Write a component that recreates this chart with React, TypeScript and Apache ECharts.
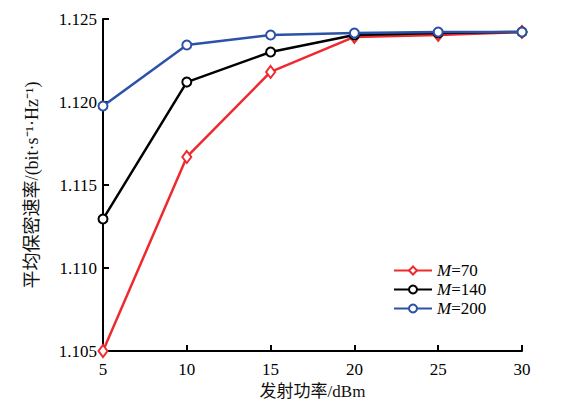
import React, { useEffect, useRef } from "react";
import * as echarts from "echarts";

const powers = ["5", "10", "15", "20", "25", "30"];
const xValues = [5, 10, 15, 20, 25, 30];
const m70 = [1.105, 1.11669, 1.12181, 1.12392, 1.12404, 1.12422];
const m140 = [1.11295, 1.1212, 1.12301, 1.12404, 1.12416, 1.12422];
const m200 = [1.11976, 1.12343, 1.12404, 1.12416, 1.12422, 1.12422];
const seriesNames = ["M=70", "M=140", "M=200"];

const serif = "Liberation Serif";
const cjk = "Liberation Serif, Noto Sans CJK SC";

export default function App() {
  const ref = useRef<HTMLDivElement>(null);
  useEffect(() => {
    if (!ref.current) return;
    const chart = echarts.init(ref.current, undefined, { renderer: "svg" });
    const mk = (vals: number[]) => xValues.map((x, i) => [x, vals[i]]);
    chart.setOption({
      animation: false,
      backgroundColor: "#fff",
      grid: { left: 103, right: 61, top: 19, bottom: 64 },
      legend: {
        orient: "vertical",
        left: 388,
        top: 257,
        itemWidth: 38,
        itemHeight: 10,
        itemGap: 2,
        data: seriesNames,
        formatter: (n: string) => "{i|M}=" + n.slice(2),
        textStyle: {
          fontFamily: serif,
          fontSize: 17,
          color: "#000",
          rich: { i: { fontStyle: "italic", fontFamily: serif, fontSize: 17, color: "#000" } },
        },
      },
      xAxis: {
        type: "value",
        min: 5,
        max: 30,
        interval: 5,
        name: "发射功率/dBm",
        nameLocation: "middle",
        nameGap: 29,
        nameTextStyle: { fontFamily: cjk, fontSize: 17, color: "#111" },
        axisLine: { lineStyle: { color: "#000", width: 2 } },
        axisTick: { inside: true, length: 6, lineStyle: { color: "#000", width: 2 } },
        axisLabel: {
          fontFamily: serif,
          fontSize: 17,
          color: "#000",
          margin: 10,
          formatter: (v: number) => powers[xValues.indexOf(v)] ?? String(v),
        },
        splitLine: { show: false },
      },
      yAxis: {
        type: "value",
        min: 1.105,
        max: 1.125,
        interval: 0.005,
        name: "平均保密速率/(bit·s⁻¹·Hz⁻¹)",
        nameLocation: "middle",
        nameGap: 62,
        nameRotate: 90,
        nameTextStyle: { fontFamily: cjk, fontSize: 18, color: "#111" },
        axisLine: { show: true, lineStyle: { color: "#000", width: 2 } },
        axisTick: { show: true, inside: true, length: 6, lineStyle: { color: "#000", width: 2 } },
        axisLabel: {
          fontFamily: serif,
          fontSize: 17,
          color: "#000",
          margin: 6,
          formatter: (v: number) => v.toFixed(3),
        },
        splitLine: { show: false },
      },
      series: [
        {
          name: seriesNames[0],
          type: "line",
          data: mk(m70),
          symbol: "diamond",
          symbolSize: [9, 12],
          color: "#ee2a2f",
          lineStyle: { width: 2.5, color: "#ee2a2f" },
          itemStyle: { color: "#ffffff", borderColor: "#ee2a2f", borderWidth: 2 },
          z: 2,
        },
        {
          name: seriesNames[1],
          type: "line",
          data: mk(m140),
          symbol: "circle",
          symbolSize: 9,
          color: "#000",
          lineStyle: { width: 2.5, color: "#000" },
          itemStyle: { color: "#ffffff", borderColor: "#000", borderWidth: 2 },
          z: 3,
        },
        {
          name: seriesNames[2],
          type: "line",
          data: mk(m200),
          symbol: "circle",
          symbolSize: 9,
          color: "#2c52a8",
          lineStyle: { width: 2.5, color: "#2c52a8" },
          itemStyle: { color: "#ffffff", borderColor: "#2c52a8", borderWidth: 2 },
          z: 4,
        },
      ],
    });
    return () => chart.dispose();
  }, []);
  return <div ref={ref} style={{ width: 583, height: 415, marginLeft: -8, marginTop: -8 }} />;
}
